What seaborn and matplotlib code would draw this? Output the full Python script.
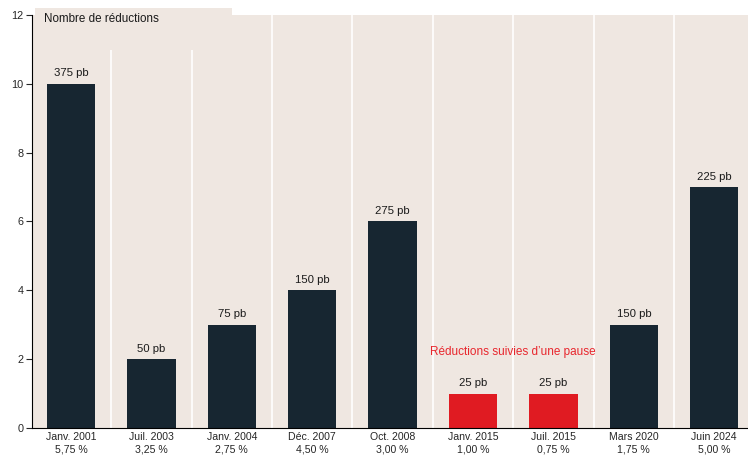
import matplotlib
matplotlib.use("Agg")
import matplotlib.pyplot as plt
import seaborn as sns
import pandas as pd
from matplotlib.patches import Rectangle

sns.set_style("white")
plt.rcParams['font.family'] = ['Liberation Sans', 'DejaVu Sans']

dates = ["Janv. 2001", "Juil. 2003", "Janv. 2004", "Déc. 2007", "Oct. 2008",
         "Janv. 2015", "Juil. 2015", "Mars 2020", "Juin 2024"]
rates = ["5,75 %", "3,25 %", "2,75 %", "4,50 %", "3,00 %",
         "1,00 %", "0,75 %", "1,75 %", "5,00 %"]
cuts = [10, 2, 3, 4, 6, 1, 1, 3, 7]
bps = ["375 pb", "50 pb", "75 pb", "150 pb", "275 pb", "25 pb", "25 pb", "150 pb", "225 pb"]
paused = [False, False, False, False, False, True, True, False, False]

navy = "#172631"
red = "#E01B22"
bg = "#EFE7E1"

df = pd.DataFrame({"date": dates, "cuts": cuts})
colors = [red if p else navy for p in paused]

fig = plt.figure(figsize=(7.48, 4.58), dpi=100)
ax = fig.add_axes([32/748, 30/458, 1 - 32/748, 413/458])
ax.set_facecolor(bg)

sns.barplot(data=df, x="date", y="cuts", hue="date", palette=colors,
            width=0.6, legend=False, ax=ax, saturation=1, zorder=3,
            linewidth=0, edgecolor="none")

for cont, lab in zip(ax.containers, bps):
    ax.bar_label(cont, labels=[lab], padding=4, fontsize=8.2, color="#1a1a1a")

n = len(dates)
for b in range(n - 1):
    ax.axvline(b + 0.5, color="white", lw=1.2, zorder=1)

ax.set_xlim(-0.485, 8.42)
ax.set_ylim(0, 12)
ax.set_yticks(range(0, 13, 2))
ax.tick_params(axis="y", length=4, width=0.8, direction="out", labelsize=7.8, pad=2, left=True)
ax.set_xticks(range(n))
ax.set_xticklabels([f"{d}\n{r}" for d, r in zip(dates, rates)], fontsize=7.6, linespacing=1.3)
ax.tick_params(axis="x", length=0, pad=3)
ax.set_xticks([b + 0.5 for b in range(n - 1)], minor=True)
ax.tick_params(axis="x", which="minor", length=32, width=0.8, color="black", direction="out")
ax.set_xlabel("")
ax.set_ylabel("")

for s in ["top", "right"]:
    ax.spines[s].set_visible(False)
for s in ["left", "bottom"]:
    ax.spines[s].set_color("black")
    ax.spines[s].set_linewidth(0.8)
    ax.spines[s].set_zorder(4)

ax.text(5.5, 2.2, "Réductions suivies d\u2019une pause", color="#E8262D",
        fontsize=8.5, ha="center", va="center", zorder=5)

fig.patches.append(Rectangle((35/748, 1 - 50/458), (232 - 35)/748, (50 - 8)/458,
                             transform=fig.transFigure, facecolor=bg, edgecolor="none", zorder=5))
fig.text(44/748, 1 - 19/458, "Nombre de réductions", fontsize=8.4, color="#1a1a1a",
         ha="left", va="center", zorder=6)

fig.savefig("out.png", dpi=100, facecolor="white")
